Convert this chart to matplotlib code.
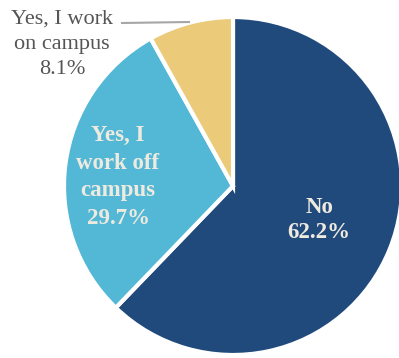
import matplotlib
matplotlib.use("Agg")
from matplotlib import pyplot as plt

labels = ["No", "Yes, I\nwork off\ncampus", "Yes, I work\non campus"]
shares = [62.2, 29.7, 8.1]
colors = ["#204a7c", "#52b8d6", "#ebcb7a"]

plt.rcParams['font.family'] = ['Liberation Serif', 'DejaVu Serif']

fig = plt.figure(figsize=(3.99, 3.58), dpi=100)
ax = fig.add_axes([0, 0, 1, 1])

ax.pie(shares, colors=colors, startangle=90, counterclock=False,
       center=(233, 172), radius=169,
       wedgeprops=dict(edgecolor="white", linewidth=3))

ax.set_xlim(0, 399)
ax.set_ylim(0, 358)
ax.set_aspect("equal")
ax.axis("off")

# inside labels
ax.text(319, 138, f"{labels[0]}\n{shares[0]}%", ha="center", va="center",
        fontsize=16.5, fontweight="bold", color="#eeeae0", linespacing=1.25)
ax.text(118, 181, f"{labels[1]}\n{shares[1]}%", ha="center", va="center",
        fontsize=16.5, fontweight="bold", color="#eeeae0", linespacing=1.4)

# outside label with leader line
ax.text(62, 314, f"{labels[2]}\n{shares[2]}%", ha="center", va="center",
        fontsize=16, color="#555555", linespacing=1.45)
ax.plot([122, 189], [335, 336], color="#a6a6a6", linewidth=1.5)

fig.savefig("out.png", dpi=100)
